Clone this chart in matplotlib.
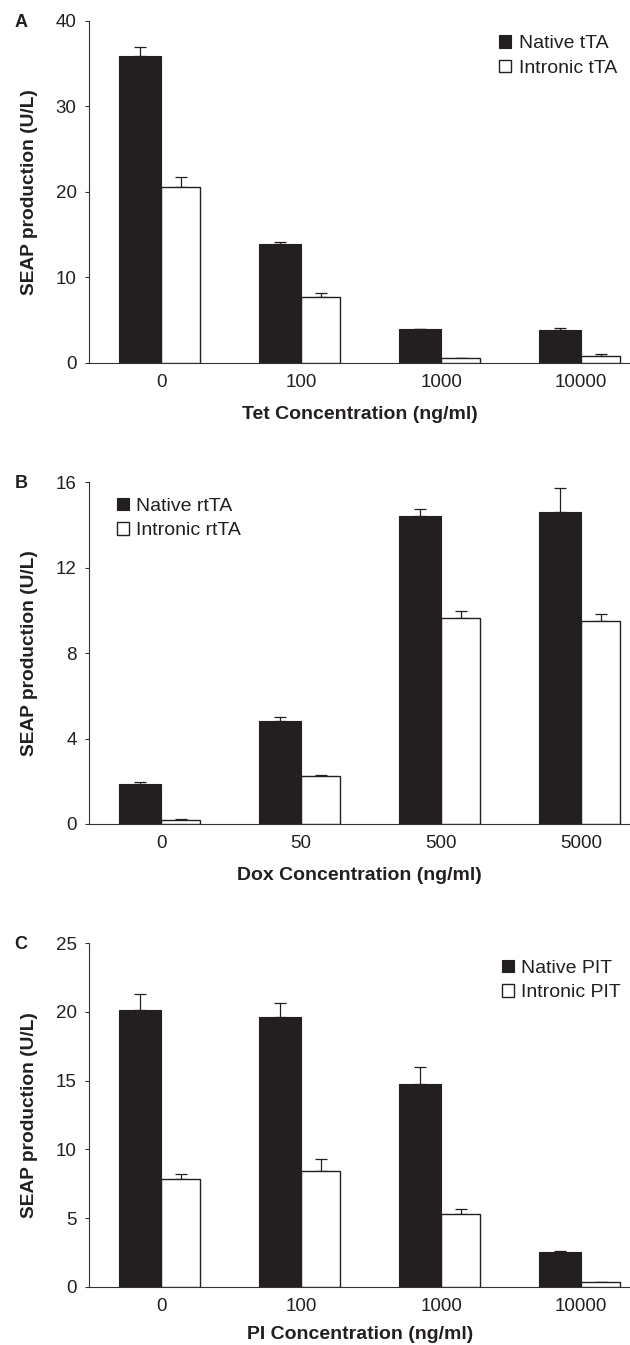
import matplotlib
matplotlib.use("Agg")
import matplotlib.pyplot as plt
import numpy as np

plt.rcParams['font.family'] = ['Liberation Sans', 'DejaVu Sans']

# ---- data ----
tet_labels = ["0", "100", "1000", "10000"]
tet_native = [35.9, 13.9, 3.9, 3.8]
tet_native_err = [1.0, 0.2, 0.1, 0.3]
tet_intronic = [20.6, 7.7, 0.5, 0.8]
tet_intronic_err = [1.1, 0.4, 0.05, 0.2]

dox_labels = ["0", "50", "500", "5000"]
dox_native = [1.89, 4.81, 14.44, 14.61]
dox_native_err = [0.08, 0.19, 0.33, 1.11]
dox_intronic = [0.19, 2.25, 9.66, 9.51]
dox_intronic_err = [0.02, 0.05, 0.33, 0.34]

pi_labels = ["0", "100", "1000", "10000"]
pi_native = [20.15, 19.66, 14.76, 2.55]
pi_native_err = [1.14, 1.0, 1.21, 0.07]
pi_intronic = [7.82, 8.42, 5.32, 0.34]
pi_intronic_err = [0.41, 0.9, 0.31, 0.03]

DARK = "#231f20"
AX = "#333333"

fig = plt.figure(figsize=(6.3, 13.45), dpi=100)

panels = [
    dict(letter="A", rect=[0.1417, 0.7303, 0.8583, 0.2543], labels=tet_labels,
         nat=tet_native, nerr=tet_native_err, intr=tet_intronic, ierr=tet_intronic_err,
         ymax=40, yticks=[0, 10, 20, 30, 40], xlabel="Tet Concentration (ng/ml)",
         leg=["Native tTA", "Intronic tTA"], legpos=(0.758, 0.957), lpad=11),
    dict(letter="B", rect=[0.1417, 0.3874, 0.8583, 0.2540], labels=dox_labels,
         nat=dox_native, nerr=dox_native_err, intr=dox_intronic, ierr=dox_intronic_err,
         ymax=16, yticks=[0, 4, 8, 12, 16], xlabel="Dox Concentration (ng/ml)",
         leg=["Native rtTA", "Intronic rtTA"], legpos=(0.051, 0.954), lpad=11),
    dict(letter="C", rect=[0.1417, 0.04335, 0.8583, 0.2553], labels=pi_labels,
         nat=pi_native, nerr=pi_native_err, intr=pi_intronic, ierr=pi_intronic_err,
         ymax=25, yticks=[0, 5, 10, 15, 20, 25], xlabel="PI Concentration (ng/ml)",
         leg=["Native PIT", "Intronic PIT"], legpos=(0.763, 0.952), lpad=8),
]

wn, wi = 0.30, 0.28
for p in panels:
    ax = fig.add_axes(p["rect"])
    x = np.arange(len(p["labels"]))
    b1 = ax.bar(x, p["nat"], width=-wn, align='edge', color=DARK, edgecolor=DARK,
                linewidth=0.8, zorder=3)
    b2 = ax.bar(x, p["intr"], width=wi, align='edge', color='white', edgecolor=DARK,
                linewidth=1.0, zorder=3)
    ax.errorbar(x - wn / 2, p["nat"], yerr=[np.zeros(len(x)), p["nerr"]], fmt='none',
                ecolor=DARK, elinewidth=0.9, capsize=4.4, capthick=0.9, zorder=2)
    ax.errorbar(x + wi / 2, p["intr"], yerr=[np.zeros(len(x)), p["ierr"]], fmt='none',
                ecolor=DARK, elinewidth=0.9, capsize=4.4, capthick=0.9, zorder=2)
    ax.set_xlim(-0.514, 3.35)
    ax.set_ylim(0, p["ymax"])
    ax.set_yticks(p["yticks"])
    ax.set_xticks(x)
    ax.set_xticklabels(p["labels"])
    for s in ["top", "right"]:
        ax.spines[s].set_visible(False)
    for s in ["left", "bottom"]:
        ax.spines[s].set_color(AX)
        ax.spines[s].set_linewidth(0.8)
    ax.tick_params(axis='y', length=3.1, width=0.8, color=AX, pad=6, labelsize=13.5,
                   labelcolor=DARK)
    ax.tick_params(axis='x', length=0, pad=8, labelsize=13.5, labelcolor=DARK)
    ax.set_xlabel(p["xlabel"], fontsize=14, fontweight='bold', color=DARK,
                  labelpad=p["lpad"])
    ax.set_ylabel("SEAP production (U/L)", fontsize=13.8, fontweight='bold', color=DARK)
    ax.yaxis.set_label_coords(-0.095, 0.5)
    leg = ax.legend([b1, b2], p["leg"], loc='upper left', bbox_to_anchor=p["legpos"],
                    frameon=False, fontsize=14, handlelength=0.6, handleheight=0.6,
                    handletextpad=0.4, labelspacing=0.38, borderpad=0, borderaxespad=0)
    for t in leg.get_texts():
        t.set_color(DARK)
    # panel letter
    top_px = (1 - (p["rect"][1] + p["rect"][3])) * 1345
    fig.text(21 / 630, 1 - (top_px + 1.5) / 1345, p["letter"], fontsize=13,
             fontweight='bold', color=DARK, ha='center', va='center')

fig.savefig("out.png", dpi=100)
